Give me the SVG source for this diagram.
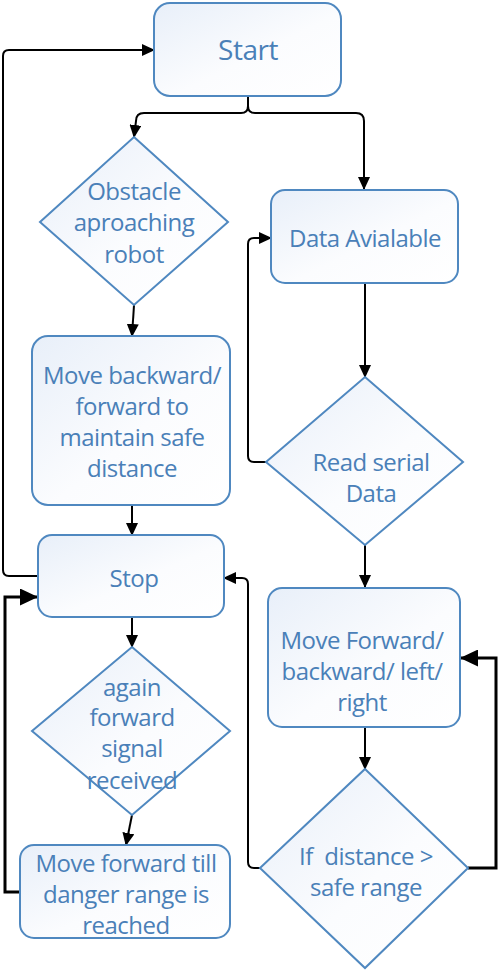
<svg xmlns="http://www.w3.org/2000/svg" width="499" height="970" viewBox="0 0 499 970">
<defs>
<linearGradient id="g" x1="0" y1="0" x2="1" y2="1">
<stop offset="0" stop-color="#e8eff9"/>
<stop offset="0.55" stop-color="#fbfcfe"/>
<stop offset="1" stop-color="#ffffff"/>
</linearGradient>
<marker id="a" markerWidth="13" markerHeight="12" refX="12" refY="6" orient="auto" markerUnits="userSpaceOnUse">
<path d="M0,0 L13,6 L0,12 Z" fill="#000"/>
</marker>
<marker id="b" markerWidth="18" markerHeight="17" refX="17" refY="8.5" orient="auto" markerUnits="userSpaceOnUse">
<path d="M0,0 L18,8.5 L0,17 Z" fill="#000"/>
</marker>
</defs>
<style>
.n{fill:url(#g);stroke:#4f88c0;stroke-width:2}
.t{font-family:"Open Sans","Liberation Sans",sans-serif;font-size:24px;letter-spacing:-0.5px;fill:#4a80b8;text-anchor:middle}
.c{fill:none;stroke:#000;stroke-width:2;marker-end:url(#a)}
.c3{fill:none;stroke:#000;stroke-width:3;marker-end:url(#b)}
.c2{fill:none;stroke:#000;stroke-width:2}
</style>
<rect width="499" height="970" fill="#fff"/>
<g id="connectors">
<path class="c2" d="M248,96 V106 Q248,113 241,113 H144 Q136,113 136,121"/>
<path class="c" d="M136,121 L134,137"/>
<path class="c" d="M248,106 Q248,113 255,113 H356 Q364,113 364,121 V189"/>
<path class="c" d="M365,283 V377"/>
<path class="c" d="M266,462 H254 Q248,462 248,456 V244 Q248,238 254,238 H271"/>
<path class="c" d="M134,305 L132,336"/>
<path class="c" d="M132,505 V535"/>
<path class="c" d="M38,576 H9 Q3,576 3,570 V56 Q3,50 9,50 H154"/>
<path class="c3" d="M20,892 H5 V597 H37"/>
<path class="c" d="M132,617 V647"/>
<path class="c" d="M132,815 L126,845"/>
<path class="c" d="M365,545 V587"/>
<path class="c" d="M365,727 V769"/>
<path class="c3" d="M468,868 H496 V658 H461"/>
<path class="c" d="M260,868 H254 Q248,868 248,862 V584 Q248,578 242,578 H224"/>
</g>
<g id="start">
<rect class="n" x="154" y="3" width="187" height="93" rx="16"/>
<text class="t" x="248" y="60" style="font-size:28px">Start</text>
</g>
<g id="obstacle">
<polygon class="n" points="134,137 228,222 134,305 40,222"/>
<text class="t" x="134" y="200">Obstacle</text>
<text class="t" x="134" y="231">aproaching</text>
<text class="t" x="134" y="263">robot</text>
</g>
<g id="data">
<rect class="n" x="271" y="190" width="187" height="93" rx="14"/>
<text class="t" x="365" y="247">Data Avialable</text>
</g>
<g id="read">
<polygon class="n" points="365,377 463,462 365,545 266,462"/>
<text class="t" x="371" y="471">Read serial</text>
<text class="t" x="371" y="502">Data</text>
</g>
<g id="moveback">
<rect class="n" x="32" y="336" width="198" height="169" rx="16"/>
<text class="t" x="132" y="384">Move backward/</text>
<text class="t" x="132" y="415">forward to</text>
<text class="t" x="132" y="446">maintain safe</text>
<text class="t" x="132" y="477">distance</text>
</g>
<g id="stop">
<rect class="n" x="38" y="535" width="186" height="82" rx="14"/>
<text class="t" x="134" y="587">Stop</text>
</g>
<g id="again">
<polygon class="n" points="132,647 230,731 132,815 32,731"/>
<text class="t" x="132" y="696">again</text>
<text class="t" x="132" y="726">forward</text>
<text class="t" x="132" y="757">signal</text>
<text class="t" x="132" y="789">received</text>
</g>
<g id="moveforward">
<rect class="n" x="20" y="845" width="210" height="93" rx="14"/>
<text class="t" x="126" y="872">Move forward till</text>
<text class="t" x="126" y="903">danger range is</text>
<text class="t" x="126" y="934">reached</text>
</g>
<g id="movedir">
<rect class="n" x="268" y="588" width="192" height="139" rx="14"/>
<text class="t" x="362" y="649">Move Forward/</text>
<text class="t" x="362" y="680">backward/ left/</text>
<text class="t" x="362" y="711">right</text>
</g>
<g id="ifdist">
<polygon class="n" points="365,769 468,868 365,968 260,868"/>
<text class="t" x="366" y="865">If&#160; distance &gt;</text>
<text class="t" x="366" y="896">safe range</text>
</g>
</svg>
